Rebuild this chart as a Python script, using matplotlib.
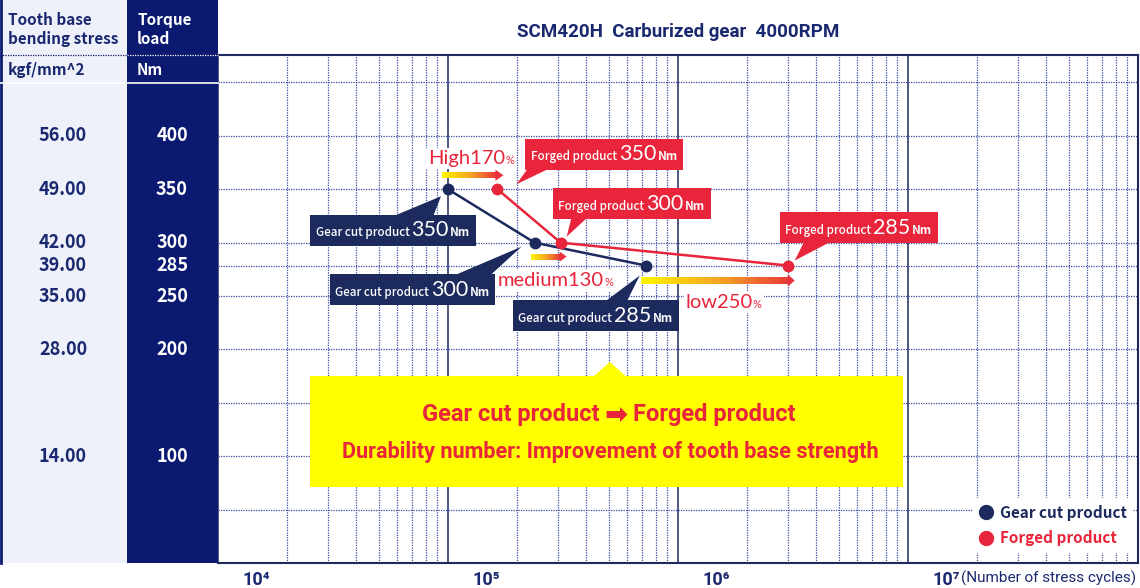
import matplotlib.pyplot as plt
import numpy as np
from matplotlib.offsetbox import AnnotationBbox, HPacker, TextArea
from matplotlib.patches import Rectangle, Polygon
from matplotlib.collections import PatchCollection
from matplotlib.lines import Line2D
from matplotlib.colors import LinearSegmentedColormap
from matplotlib import transforms as mtransforms
from matplotlib.ticker import NullFormatter, LogLocator

# --- data -------------------------------------------------------------
stress_labels = [56.00, 49.00, 42.00, 39.00, 35.00, 28.00, 14.00]
torque_labels = [400, 350, 300, 285, 250, 200, 100]
grid_stress = [7, 14, 21, 28, 35, 39, 42, 49, 56, 63]

gear_cycles = [1.0e5, 2.38e5, 7.24e5]
gear_stress = [49.0, 42.0, 39.0]
gear_torque = [350, 300, 285]

forged_cycles = [1.64e5, 3.09e5, 3.0e6]
forged_stress = [49.0, 42.0, 39.0]
forged_torque = [350, 300, 285]

gain_names = ["High170", "medium130", "low250"]
decades = [1e4, 1e5, 1e6, 1e7]
decade_labels = ["10⁴", "10⁵", "10⁶", "10⁷"]

# --- style ------------------------------------------------------------
NAVY = "#1c2a5e"
COL_NAVY = "#0b1a70"
LIGHT = "#eef1f9"
TXT_NAVY = "#1a2870"
GRID = "#3b4aa3"
RED = "#e8253a"
YELLOW = "#ffff00"
JP = ["Noto Sans CJK JP", "DejaVu Sans"]
NARROW = ["Liberation Sans Narrow", "Roboto", "DejaVu Sans"]
NUM = ["Lato", "DejaVu Sans"]

W, H = 1140, 588
fig = plt.figure(figsize=(W / 100, H / 100), dpi=100)


def fy(py):
    return 1 - py / H


ax = fig.add_axes([218 / W, fy(563), 920 / W, 508 / H])
ax.set_xscale("log")
ax.set_xlim(1e4, 1e8)
ax.set_ylim(0, 66.6)
ax.set_autoscale_on(False)

# grid
ax.set_xticks(decades)
ax.xaxis.set_minor_locator(LogLocator(base=10, subs=np.arange(2, 10)))
ax.xaxis.set_minor_formatter(NullFormatter())
ax.set_yticks(grid_stress)
ax.grid(which="major", axis="x", color=NAVY, lw=1.1, ls="-")
ax.grid(which="minor", axis="x", color=GRID, lw=0.9, ls=(0, (1, 1)))
ax.grid(which="major", axis="y", color=GRID, lw=0.9, ls=(0, (1, 1)))
ax.tick_params(which="both", length=0)
ax.tick_params(axis="y", labelleft=False)
ax.set_xticklabels(decade_labels, family=NARROW, weight="bold", fontsize=13,
                   color=TXT_NAVY, ha="left")
ax.tick_params(axis="x", pad=6)
shift = mtransforms.ScaledTranslation(0.24, 0, fig.dpi_scale_trans)
for lab in ax.get_xticklabels():
    lab.set_transform(lab.get_transform() + shift)
for side in ["top", "right", "bottom"]:
    ax.spines[side].set_color(NAVY)
    ax.spines[side].set_linewidth(1.5)
ax.spines["left"].set_visible(False)
ax.set_axisbelow(True)

fig.text(1136 / W, fy(578), "(Number of stress cycles)", ha="right", va="center",
         family=NARROW, fontsize=11, color=TXT_NAVY)

# --- left columns -------------------------------------------------------
fig.add_artist(Rectangle((0, fy(563)), 127 / W, 563 / H, transform=fig.transFigure,
                         fc=LIGHT, ec="none", zorder=0))
fig.add_artist(Rectangle((127 / W, fy(563)), 91 / W, 563 / H, transform=fig.transFigure,
                         fc=COL_NAVY, ec="none", zorder=0))
fig.add_artist(Line2D([1 / W, 1 / W], [fy(0), fy(563)], color=COL_NAVY, lw=2))
fig.add_artist(Line2D([0, 127 / W], [fy(55), fy(55)], color=COL_NAVY, lw=0.9, ls=(0, (1, 1))))
fig.add_artist(Line2D([127 / W, 218 / W], [fy(55), fy(55)], color="white", lw=0.9, ls=(0, (1, 1))))
fig.add_artist(Line2D([0, 218 / W], [fy(83), fy(83)], color="white", lw=1.2))

head_kw = dict(family=JP, weight="bold", fontsize=11, va="baseline")
fig.text(8 / W, fy(25), "Tooth base", color=TXT_NAVY, **head_kw)
fig.text(8 / W, fy(44), "bending stress", color=TXT_NAVY, **head_kw)
fig.text(8 / W, fy(75), "kgf/mm^2", color=TXT_NAVY, **head_kw)
fig.text(137 / W, fy(25), "Torque", color="white", **head_kw)
fig.text(137 / W, fy(44), "load", color="white", **head_kw)
fig.text(137 / W, fy(75), "Nm", color="white", **head_kw)

col_tr = mtransforms.blended_transform_factory(fig.transFigure, ax.transData)
for s, t in zip(stress_labels, torque_labels):
    fig.text(63 / W, s, f"{s:.2f}", transform=col_tr, ha="center", va="center",
             family=JP, weight="bold", fontsize=13, color=TXT_NAVY)
    fig.text(172 / W, s, f"{t}", transform=col_tr, ha="center", va="center",
             family=JP, weight="bold", fontsize=13, color="white")

# --- title --------------------------------------------------------------
fig.text(678 / W, fy(32), "SCM420H  Carburized gear  4000RPM", ha="center", va="center",
         family=NARROW, weight="bold", fontsize=13.5, color=TXT_NAVY)

# --- series -------------------------------------------------------------
ax.plot(gear_cycles, gear_stress, color=NAVY, lw=1.8, marker="o", ms=7.5, zorder=5)
ax.plot(forged_cycles, forged_stress, color=RED, lw=1.8, marker="o", ms=7.5, zorder=5)

ident = mtransforms.IdentityTransform()


def callout(x, y, name, value, color, dx, dy, tail):
    px, py = ax.transData.transform((x, y))
    ax.add_patch(Polygon([(px + a, py + b) for a, b in tail], closed=True,
                         fc=color, ec="none", transform=ident, zorder=6.5))
    box = HPacker(children=[
        TextArea(name, textprops=dict(color="white", size=8.4, family=JP, weight="medium")),
        TextArea(str(value), textprops=dict(color="white", size=15.5, family=NUM)),
        TextArea("Nm", textprops=dict(color="white", size=8.5, family=JP, weight="bold")),
    ], align="baseline", pad=0, sep=1.2)
    ab = AnnotationBbox(box, (x, y), xybox=(dx, dy), xycoords="data",
                        boxcoords="offset pixels", pad=0.4, frameon=True,
                        bboxprops=dict(fc=color, ec="none"), zorder=7)
    ax.add_artist(ab)


# box centre offset (px, y up) and tail triangle (base on box edge, tip near point)
gear_layout = [(-55, -41, [(-62, -30), (-16, -30), (-7, -7)]),
               (-122, -47, [(-88, -36), (-48, -36), (-13, -4)]),
               (-50, -50, [(-46, -40), (-21, -40), (-6, -10)])]
forged_layout = [(107, 35, [(35, 27), (65, 27), (19, 5)]),
                 (71, 39, [(12, 30), (32, 30), (6, 6)]),
                 (71, 38, [(19, 29), (53, 29), (7, 5)])]
for x, y, t, lay in zip(gear_cycles, gear_stress, gear_torque, gear_layout):
    callout(x, y, "Gear cut product", t, NAVY, *lay)
for x, y, t, lay in zip(forged_cycles, forged_stress, forged_torque, forged_layout):
    callout(x, y, "Forged product", t, RED, *lay)

# --- gradient arrows ----------------------------------------------------
cmap = LinearSegmentedColormap.from_list("grad", ["#fff500", "#f5a623", "#e8303a"])


def grad_arrow(x0, x1, y, dy, off0, off1, shaft_h, head_w, head_h):
    (px0, py), (px1, _) = ax.transData.transform([(x0, y), (x1, y)])
    px0 += off0
    px1 += off1
    py += dy
    n = 80
    xs = np.linspace(px0, px1 - head_w, n + 1)
    rects = [Rectangle((xs[i], py - shaft_h / 2), xs[i + 1] - xs[i] + 0.6, shaft_h)
             for i in range(n)]
    pc = PatchCollection(rects, facecolors=[cmap(i / (n - 1) * 0.95) for i in range(n)],
                         edgecolors="none", transform=ident, zorder=6)
    ax.add_collection(pc, autolim=False)
    ax.add_patch(Polygon([(px1 - head_w, py - head_h / 2), (px1, py),
                          (px1 - head_w, py + head_h / 2)], closed=True,
                         fc=cmap(1.0), ec="none", transform=ident, zorder=6))


arrow_layout = [(14, -6, 6, 6, 8, 11),
                (-14, -4, 6, 6, 7, 10),
                (-15, -5, 7, 7, 7, 12)]
for gx, fx_, y, lay in zip(gear_cycles, forged_cycles, gear_stress, arrow_layout):
    grad_arrow(gx, fx_, y, *lay)

# gain labels
gain_offsets = [(23, 31), (21, -38), (78, -37)]
for name, gx, y, (dx, dy) in zip(gain_names, gear_cycles, gear_stress, gain_offsets):
    box = HPacker(children=[
        TextArea(name, textprops=dict(color=RED, size=14.5, family=NUM)),
        TextArea("%", textprops=dict(color=RED, size=8, family=NUM)),
    ], align="baseline", pad=0, sep=0)
    ax.add_artist(AnnotationBbox(box, (gx, y), xybox=(dx, dy), boxcoords="offset pixels",
                                 pad=0.15, frameon=True,
                                 bboxprops=dict(fc="white", ec="none"), zorder=6))

# --- yellow message box -------------------------------------------------
msg = Polygon([(0.100, 0.1496), (0.7446, 0.1496), (0.7446, 0.368), (0.443, 0.368),
               (0.426, 0.3957), (0.4087, 0.368), (0.100, 0.368)], closed=True,
              transform=ax.transAxes, fc=YELLOW, ec="none", zorder=4)
ax.add_patch(msg)
line1 = HPacker(children=[
    TextArea("Gear cut product", textprops=dict(color=RED, size=17, family=NARROW, weight="bold")),
    TextArea("➡", textprops=dict(color=RED, size=20, family=["DejaVu Sans"], weight="bold")),
    TextArea("Forged product", textprops=dict(color=RED, size=17, family=NARROW, weight="bold")),
], align="center", pad=0, sep=3.5)
ax.add_artist(AnnotationBbox(line1, (0.4245, 0.293), xycoords="axes fraction",
                             frameon=False, zorder=5))
ax.text(0.4266, 0.2185, "Durability number: Improvement of tooth base strength",
        transform=ax.transAxes, ha="center", va="center", family=NARROW, weight="bold",
        fontsize=15.6, color=RED, zorder=5)

# --- legend -------------------------------------------------------------
handles = [Line2D([], [], ls="none", marker="o", ms=10, color=NAVY),
           Line2D([], [], ls="none", marker="o", ms=10, color=RED)]
leg = ax.legend(handles, ["Gear cut product", "Forged product"], loc="lower right",
                bbox_to_anchor=(0.995, 0.02), borderaxespad=0, frameon=True,
                framealpha=1, edgecolor="none", fancybox=False, handlelength=0.8,
                handletextpad=0.5, labelspacing=0.6, borderpad=0.45,
                prop=dict(family=JP, weight="bold", size=11))
leg.get_frame().set_linewidth(0)
leg.set_zorder(8)
for txt, c in zip(leg.get_texts(), [NAVY, RED]):
    txt.set_color(c)

fig.savefig("out.png", dpi=100)
